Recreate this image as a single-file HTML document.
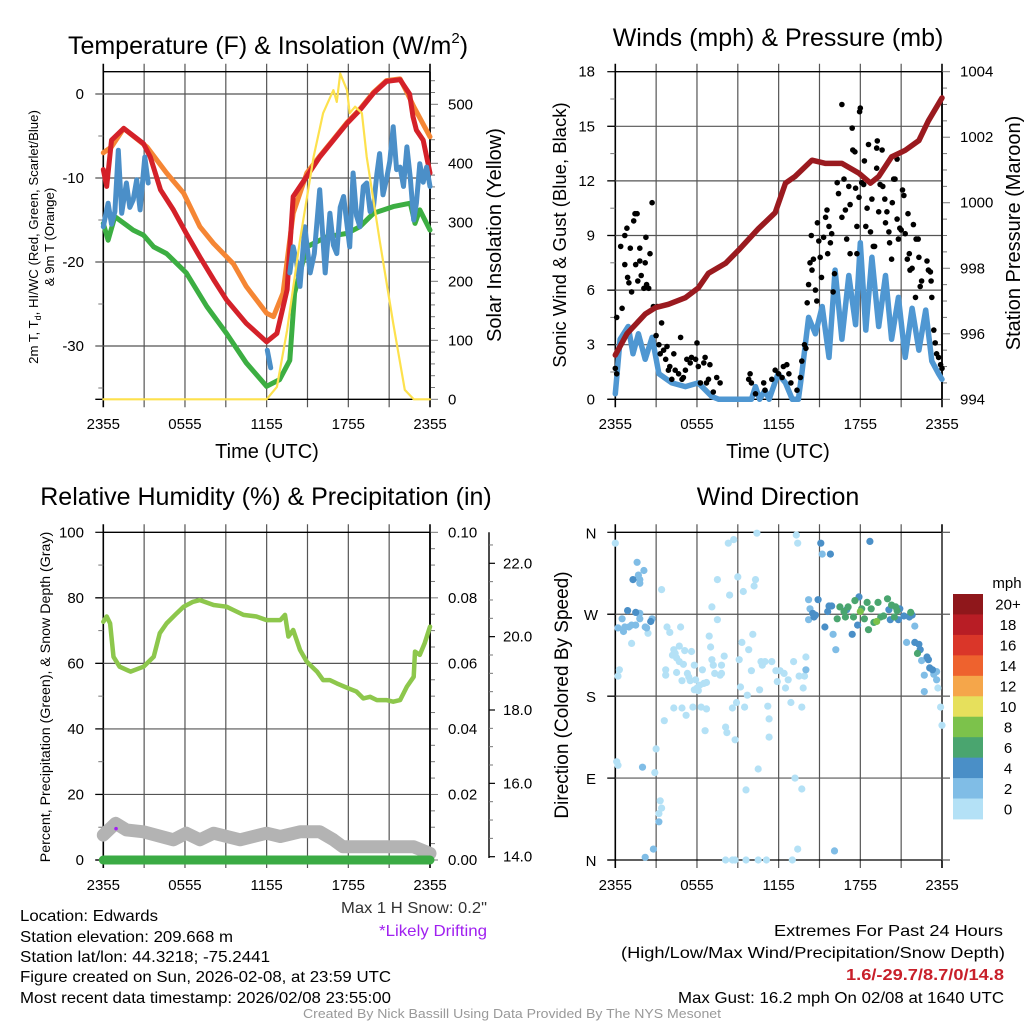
<!DOCTYPE html>
<html><head><meta charset="utf-8"><title>Mesonet Station Chart</title>
<style>
html,body{margin:0;padding:0;background:#fff;}
svg{display:block;font-family:"Liberation Sans",Arial,sans-serif;}
</style></head>
<body>
<svg id="fig" width="1024" height="1024" viewBox="0 0 1024 1024" xmlns="http://www.w3.org/2000/svg">
<rect x="0" y="0" width="1024" height="1024" fill="#fff"/>
<g id="layer"></g>
<!-- Titles -->
<text x="268" y="54" font-size="25" text-anchor="middle">Temperature (F) &amp; Insolation (W/m<tspan font-size="15" dy="-11">2</tspan><tspan dy="11">)</tspan></text>
<text x="778" y="46" font-size="25" text-anchor="middle">Winds (mph) &amp; Pressure (mb)</text>
<text x="266" y="505" font-size="25" text-anchor="middle">Relative Humidity (%) &amp; Precipitation (in)</text>
<text x="778" y="505" font-size="25" text-anchor="middle">Wind Direction</text>
<!-- X axis titles -->
<text x="267" y="458" font-size="20" text-anchor="middle">Time (UTC)</text>
<text x="778" y="458" font-size="20" text-anchor="middle">Time (UTC)</text>
<!-- Y axis titles -->
<text transform="translate(38,237) rotate(-90)" font-size="13.2" text-anchor="middle">2m T, T<tspan font-size="9" dy="3">d</tspan><tspan dy="-3">, HI/WC (Red, Green, Scarlet/Blue)</tspan></text>
<text transform="translate(54,237) rotate(-90)" font-size="13.2" text-anchor="middle">&amp; 9m T (Orange)</text>
<text transform="translate(501,235) rotate(-90)" font-size="20" text-anchor="middle">Solar Insolation (Yellow)</text>
<text transform="translate(566,235) rotate(-90)" font-size="18.5" text-anchor="middle">Sonic Wind &amp; Gust (Blue, Black)</text>
<text transform="translate(1020,233) rotate(-90)" font-size="20" text-anchor="middle">Station Pressure (Maroon)</text>
<text transform="translate(50,697) rotate(-90)" font-size="14.2" text-anchor="middle">Percent, Precipitation (Green), &amp; Snow Depth (Gray)</text>
<text transform="translate(568,695) rotate(-90)" font-size="19" text-anchor="middle">Direction (Colored By Speed)</text>
<!-- bottom text -->
<g font-size="16">
<text x="20" y="921" textLength="138" lengthAdjust="spacingAndGlyphs">Location: Edwards</text>
<text x="20" y="942" textLength="213" lengthAdjust="spacingAndGlyphs">Station elevation: 209.668 m</text>
<text x="20" y="962" textLength="250" lengthAdjust="spacingAndGlyphs">Station lat/lon: 44.3218; -75.2441</text>
<text x="20" y="982" textLength="371" lengthAdjust="spacingAndGlyphs">Figure created on Sun, 2026-02-08, at 23:59 UTC</text>
<text x="20" y="1003" textLength="371" lengthAdjust="spacingAndGlyphs">Most recent data timestamp: 2026/02/08 23:55:00</text>
</g>
<text x="341" y="913" font-size="16" fill="#333" textLength="146" lengthAdjust="spacingAndGlyphs">Max 1 H Snow: 0.2"</text>
<text x="379" y="936" font-size="16" fill="#a020f0" textLength="108" lengthAdjust="spacingAndGlyphs">*Likely Drifting</text>
<text x="774" y="936" font-size="16" textLength="229" lengthAdjust="spacingAndGlyphs">Extremes For Past 24 Hours</text>
<text x="621" y="958" font-size="16" textLength="384" lengthAdjust="spacingAndGlyphs">(High/Low/Max Wind/Precipitation/Snow Depth)</text>
<text x="846" y="980" font-size="16" font-weight="bold" fill="#c8202a" textLength="158" lengthAdjust="spacingAndGlyphs">1.6/-29.7/8.7/0/14.8</text>
<text x="678" y="1003" font-size="16" textLength="326" lengthAdjust="spacingAndGlyphs">Max Gust: 16.2 mph On 02/08 at 1640 UTC</text>
<text x="303" y="1018" font-size="13" fill="#999" textLength="418" lengthAdjust="spacingAndGlyphs">Created By Nick Bassill Using Data Provided By The NYS Mesonet</text>
</svg>
<script>
// ---------- DATA ----------
const timeTickLabels = ["2355","0555","1155","1755","2355"];
const tempTicks = [0,-10,-20,-30];
const insolTicks = [0,100,200,300,400,500];
const windTicks = [0,3,6,9,12,15,18];
const presTicks = [994,996,998,1000,1002,1004];
const rhTicks = [0,20,40,60,80,100];
const precipTicks = ["0.00","0.02","0.04","0.06","0.08","0.10"];
const snowTicks = ["14.0","16.0","18.0","20.0","22.0"];
const dirTickLabels = ["N","E","S","W","N"];
const speedBinLabels = ["0","2","4","6","8","10","12","14","16","18","20+"];
const speedBinColors = ["#b4e1f6","#80bde6","#4a8fc7","#4aa56f","#7cc24b","#e6e05c","#f5a64a","#ee622e","#da3629","#b81d25","#8f171b"];

const redHours = [0,0.25,0.6,1.5,2.95,3.45,4.2,5.15,6.1,7.1,8.1,9.05,10.5,12,12.75,13.5,13.95,14.95,15.9,16.9,17.9,18.85,19.85,20.8,21.8,22.5,22.75,23,23.5,24];
const redTemp = [-9,-11,-5.5,-4.1,-5.9,-7.5,-11.4,-13.8,-16.6,-19.4,-22.1,-24.5,-27.3,-29.5,-28.5,-23.3,-12.2,-9.8,-7.5,-5.5,-3.5,-1.9,0.1,1.5,1.7,0,-2.7,-4.3,-5.5,-9.4];
const orangeHours = [0,0.6,1.5,3.2,4.65,5.9,7.1,8.1,9.55,10.5,12,12.5,13.2,13.95,14.95,15.9,16.9,17.9,18.85,19.85,20.8,21.8,22.3,22.8,24];
const orangeTemp = [-7,-6.3,-4.1,-6.3,-9.4,-11.8,-15.8,-17.8,-20.2,-22.9,-26.1,-26.5,-23.7,-14.2,-9.4,-7.4,-5.4,-3.4,-1.8,0.2,1.6,1.8,0.2,-1.5,-5.1];
const greenHours = [0,0.35,0.85,2.2,2.95,3.7,4.65,6.1,7.6,9.05,10.5,12,12.95,13.7,14.05,14.95,16.4,17.9,18.85,19.85,21.3,22.55,22.9,23.25,24];
const greenTemp = [-15.4,-17.4,-14.6,-16.2,-16.8,-18.2,-19,-21.3,-25.3,-28.5,-32,-34.8,-34,-31.7,-23.7,-18.2,-17,-16.6,-15.8,-14.2,-13.4,-13,-15.4,-13.8,-16.2];
const blueHours = [0,0.35,0.6,0.85,1.1,1.35,1.7,1.95,2.2,2.45,2.7,3.05,3.3,3.31,12.05,12.3,12.31,13.7,13.95,14.2,14.45,14.8,15.2,15.5,15.9,16.3,16.65,16.9,17.15,17.4,17.65,18.1,18.35,18.6,18.85,19.1,19.35,19.6,19.85,20.1,20.3,20.55,20.8,21.05,21.3,21.55,21.8,22.05,22.3,22.55,22.8,23.0,23.25,23.5,23.75,24];
const blueTemp = [-15.8,-13,-15.5,-14,-6.7,-14.2,-10.6,-13.5,-12.6,-10.2,-13.8,-7.5,-10.6,null,-30.5,-32.6,null,-21.3,-18.2,-20,-22.9,-15.8,-21.3,-19,-11.4,-21.3,-14.2,-18,-19,-13.5,-12.2,-18.2,-9.4,-14.5,-15.8,-11,-10.6,-14,-13.4,-9.5,-7.1,-12,-10.2,-8,-3.9,-9,-8.7,-11,-6.3,-10,-15,-13,-8.3,-10.5,-8.7,-11];
const solarHours = [0,12,12.75,13.5,14.45,15.45,16.15,16.9,17.15,17.4,17.9,18.1,18.5,19,19.35,20.3,21.3,22.15,22.8,24];
const solarWm2 = [0,0,21,117,270,411,485,524,504,552,524,485,496,485,411,270,129,16,0,0];

const presHours = [0,0.85,2.2,2.95,3.9,5.15,6.1,6.85,8.1,9.05,10.5,11.75,12.5,13.2,14.45,15.45,16.65,17.9,18.75,19.35,20.3,21.3,22.3,23,24];
const presMb = [995.35,996.0,996.6,996.8,996.9,997.1,997.4,997.85,998.15,998.55,999.2,999.7,1000.6,1000.8,1001.3,1001.2,1001.2,1000.9,1000.6,1000.8,1001.4,1001.6,1001.9,1002.5,1003.2];
const windHours = [0,0.35,0.95,1.3,1.7,2.2,2.7,3.2,4.15,5.15,6.1,7.1,7.6,10.0,10.3,10.6,11.0,11.3,11.95,12.5,13.0,13.45,13.7,14.2,14.7,15.2,15.7,16.15,16.65,17.15,17.65,18.0,18.4,18.85,19.35,19.85,20.3,20.8,21.3,21.8,22.3,22.8,23.25,23.75,24];
const windMph = [0.3,3.3,4.0,2.5,3.6,2.2,3.4,1.4,0.9,0.7,0.9,0.15,0,0,0.7,0,0.5,0,1.4,0.9,0,0,1.4,4.5,3.6,5.1,2.3,7.1,3.3,6.8,4.1,8.6,3.8,7.8,4.0,6.8,3.3,5.6,2.3,5.0,2.7,4.9,2.1,1.4,1.1];
const gustHours = [0,0.1,0.1,0.4,0.5,0.7,0.7,0.85,0.9,1.0,1.1,1.2,1.35,1.45,1.6,1.5,1.65,1.8,1.8,1.9,2.1,2.2,2.25,2.3,2.45,2.55,2.7,2.8,3.0,3.1,3.2,3.3,3.4,3.55,3.7,3.8,3.9,4.0,4.15,4.3,4.4,4.65,4.8,4.9,5.0,5.15,5.25,5.5,5.6,5.9,6.0,6.1,6.25,6.5,6.6,6.7,6.85,6.95,7.2,7.45,7.7,9.8,9.9,10.0,10.3,10.9,11.0,11.5,11.75,12.0,12.25,12.35,12.6,12.75,12.9,13.35,13.6,13.7,13.9,14.0,14.1,14.2,14.3,14.4,14.45,14.55,14.7,14.8,14.85,14.95,15.05,15.15,15.3,15.45,15.55,15.6,15.7,15.8,15.9,16.0,16.1,16.3,16.4,16.65,16.65,16.8,16.9,17.0,17.15,17.25,17.25,17.4,17.45,17.6,17.65,17.75,17.75,17.9,17.95,18.0,18.1,18.25,18.3,18.4,18.5,18.6,18.75,18.85,18.95,19.05,19.2,19.2,19.25,19.35,19.45,19.6,19.65,19.8,19.85,19.95,20.1,20.15,20.3,20.35,20.45,20.55,20.7,20.7,20.8,20.9,21.0,21.1,21.2,21.3,21.45,21.5,21.6,21.65,21.8,21.9,22.05,22.1,22.25,22.3,22.4,22.5,22.9,23.0,23.15,23.2,23.25,23.4,23.5,23.6,23.75,23.9,24];
const gustMph = [1.7,1.4,4.5,8.4,5.0,9.0,7.4,9.4,6.7,6.4,8.3,5.9,9.8,10.2,10.2,7.4,6.5,8.3,7.6,6.8,6.1,7.5,8.9,6.3,6.1,8.0,10.8,5.1,3.5,5.1,3.0,2.5,4.2,2.7,2.2,2.9,1.6,1.8,1.1,2.5,1.6,1.4,3.4,1.1,1.2,1.6,2.2,2.0,2.3,2.2,3.1,1.8,0.9,2.0,2.3,0.9,1.1,1.9,0.4,1.2,0.9,1.1,1.4,0.9,0.3,0.9,0.5,1.1,1.6,1.4,1.2,1.8,1.9,1.4,0.9,0.5,1.2,2.1,3.0,2.8,5.3,6.3,7.5,9.0,7.1,7.7,6.0,5.4,9.7,8.7,7.8,6.7,8.9,10.0,10.4,8.0,9.5,8.6,9.1,5.9,6.9,11.9,11.3,16.2,10.0,12.1,10.4,8.8,11.7,10.7,8.0,14.9,13.7,13.6,11.6,9.5,8.0,11.1,15.8,16.0,11.9,11.8,13.1,9.5,10.5,14.0,9.2,11.0,8.4,8.4,13.8,12.7,14.2,10.3,11.8,13.7,11.7,11.0,9.7,10.3,9.2,8.6,7.7,10.8,12.1,12.1,13.2,9.9,8.8,9.4,9.3,11.5,11.2,9.1,7.7,10.2,8.0,7.1,7.2,9.6,5.6,8.8,8.8,7.8,6.2,6.5,7.6,7.1,7.0,6.5,5.6,3.8,3.1,2.5,2.3,1.9,1.7];

const rhHours = [0,0.25,0.5,0.75,1.2,2.0,2.95,3.7,4.15,4.65,5.4,5.9,6.6,7.1,8.1,9.05,9.55,10.3,11.25,12.0,13.0,13.35,13.6,13.95,14.45,14.95,15.7,16.15,16.65,17.15,18.0,18.6,19.1,19.6,20.1,20.8,21.3,21.8,22.3,22.8,22.9,23.25,23.6,24];
const rhPct = [72.7,74.3,72.2,62,59,57.5,59,62,69.2,72.2,75.3,77.3,78.8,79.3,77.8,77.3,76.3,74.8,74.3,73.2,73.2,74.8,68.2,70.2,64.1,60.5,57.5,54.9,54.9,53.9,52.4,51.4,49.3,49.8,48.8,48.8,48.3,48.8,52.9,55.9,63.6,62.6,66.1,71.2];
const precipHours = [0,24];
const precipIn = [0,0];
const snowHours = [0,0.9,1.7,2.95,5.15,6.1,7.1,8.1,10.05,12.0,13.0,14.45,15.9,16.9,17.6,22.8,24];
const snowDepthIn = [14.59,14.91,14.73,14.68,14.46,14.64,14.46,14.64,14.46,14.64,14.55,14.68,14.68,14.46,14.27,14.27,14.09];
const driftHours = [0.9];
const driftDepth = [14.82];

const dirHours = [0.0,0.1,0.2,0.3,0.2,1.2,2.4,3.0,2.9,3.3,3.4,3.2,3.4,3.6,3.7,3.7,3.8,4.0,4.2,4.3,4.4,4.5,4.7,4.8,4.5,4.7,4.9,5.0,5.1,5.3,5.4,5.5,5.6,5.8,5.9,5.8,6.0,6.1,6.2,6.4,6.5,6.7,6.9,7.0,7.1,7.2,7.3,7.5,7.7,7.8,8.0,7.8,7.5,7.1,4.3,4.9,5.2,5.7,6.3,6.7,6.6,8.1,8.2,8.3,8.7,8.4,9.0,9.1,9.2,9.3,9.4,9.5,8.9,8.6,8.8,9.7,9.6,9.8,10.0,10.1,10.3,10.2,10.4,10.5,10.6,10.7,10.8,11.0,11.3,11.2,11.3,11.5,11.8,11.9,12.1,12.4,12.5,12.7,12.9,13.1,13.2,13.3,13.4,13.4,13.5,13.7,13.7,13.8,13.9,14.0,8.1,8.6,8.8,9.6,10.5,11.1,13.0,23.7,23.9,24.0,
0.2,0.5,0.7,0.6,1.0,1.2,1.5,1.7,1.8,2.2,2.3,2.7,1.8,1.6,1.7,1.8,2.1,1.8,2.0,2.2,2.8,3.2,14.0,14.2,14.2,15.2,16.0,16.2,16.1,21.4,22.0,22.5,22.7,22.7,23.4,23.6,23.6,14.3,
0.9,1.5,2.6,1.3,14.5,14.6,14.7,14.9,15.1,15.4,15.6,15.7,15.8,15.9,17.0,17.4,17.8,17.9,18.7,20.1,20.2,20.8,20.9,21.2,21.6,21.8,22.0,22.3,22.4,22.9,23.0,23.1,23.3,
16.5,16.8,16.3,16.9,17.1,17.5,17.6,18.1,18.3,18.5,18.6,18.8,19.0,19.3,19.5,19.7,20.0,20.3,20.5,20.6,20.7,21.7,22.2,
18.0,19.2];
const dirDeg = [348,108,104,209,202,238,249,122,96,65,57,51,297,153,203,209,256,250,225,231,227,222,235,256,206,218,197,215,230,205,201,197,229,187,198,214,189,186,192,209,194,195,246,234,220,214,205,264,203,205,224,214,308,278,167,167,159,168,168,166,142,146,140,348,352,291,311,220,190,239,295,168,173,167,132,181,77,231,208,248,308,301,359,100,187,218,214,218,135,169,155,218,208,196,208,205,189,198,173,218,90,357,348,12,202,168,78,189,202,223,0,0,0,0,0,0,0,189,168,148,
255,265,256,251,256,258,258,271,265,256,255,265,271,327,313,308,318,304,102,3,12,42,209,286,264,336,248,231,10,239,257,219,203,185,204,198,207,276,
274,272,262,308,271,267,269,286,348,256,273,279,336,279,275,248,258,289,350,275,264,264,276,268,267,269,239,237,231,223,220,211,209,
278,273,265,267,278,267,285,276,265,283,253,276,261,283,267,268,287,280,267,278,274,272,227,
273,262];
const dirSpeed = [1,1,1,1,1,1,1,1,1,1,1,1,1,1,1,1,1,1,1,1,1,1,1,1,1,1,1,1,1,1,1,1,1,1,1,1,1,1,1,1,1,1,1,1,1,1,1,1,1,1,1,1,1,1,1,1,1,1,1,1,1,1,1,1,1,1,1,1,1,1,1,1,1,1,1,1,1,1,1,1,1,1,1,1,1,1,1,1,1,1,1,1,1,1,1,1,1,1,1,1,1,1,1,1,1,1,1,1,1,1,1,1,1,1,1,1,1,1,1,1,
3,3,3,3,3,3,3,3,3,3,3,3,3,3,3,3,3,3,3,3,3,3,3,3,3,3,3,3,3,3,3,3,3,3,3,3,3,3,
5,5,5,5,5,5,5,5,5,5,5,5,5,5,5,5,5,5,5,5,5,5,5,5,5,5,5,5,5,5,5,5,5,
7,7,7,7,7,7,7,7,7,7,7,7,7,7,7,7,7,7,7,7,7,7,7,
9,9];

// ---------- HELPERS ----------
const NS = "http://www.w3.org/2000/svg";
const layer = document.getElementById('layer');
function mk(tag, attrs, parent) {
  const el = document.createElementNS(NS, tag);
  for (const k in attrs) el.setAttribute(k, attrs[k]);
  (parent || layer).appendChild(el);
  return el;
}
function lin(d0, d1, r0, r1) { return v => r0 + (v - d0) / (d1 - d0) * (r1 - r0); }
function pathD(xs, ys, xf, yf) {
  let d = "", pen = false;
  for (let i = 0; i < xs.length; i++) {
    if (ys[i] === null) { pen = false; continue; }
    d += (pen ? "L" : "M") + xf(xs[i]).toFixed(1) + "," + yf(ys[i]).toFixed(1);
    pen = true;
  }
  return d;
}
function drawSeries(name, xs, ys, xf, yf, color, width) {
  const el = mk('path', {d: pathD(xs, ys, xf, yf), fill: 'none', stroke: color, 'stroke-width': width, 'stroke-linejoin': 'round', 'stroke-linecap': 'round'});
  
  
  return el;
}
function addText(name, x, y, str, size, anchor) {
  const t = mk('text', {x: x, y: y, 'font-size': size, 'text-anchor': anchor || 'middle'});
  t.textContent = str;
  
  
  return t;
}
function addLine(name, x1, y1, x2, y2, color, w) {
  const l = mk('line', {x1: x1, y1: y1, x2: x2, y2: y2, stroke: color, 'stroke-width': w});
  
  
  return l;
}

function panelFrame(prefix, P, hGridYs) {
  const xf = lin(0, 24, P.x0, P.x1);
  for (let k = 0; k <= 8; k++) {
    const x = xf(k * 3);
    addLine(prefix + '-vgrid', x, P.y0 - 8, x, P.y1 + 8, (k === 0 || k === 8) ? '#000' : '#555', (k === 0 || k === 8) ? 1.6 : 1.2);
  }
  hGridYs.forEach(y => addLine(prefix + '-hgrid', P.x0 - 8, y, P.x1, y, '#555', 1.2));
  addLine(prefix + '-frame-top', P.x0, P.y0, P.x1, P.y0, '#000', 1.3);
  addLine(prefix + '-frame-bottom', P.x0 - 8, P.y1, P.x1, P.y1, '#000', 1.3);
  return xf;
}
function timeLabels(prefix, xf, y) {
  timeTickLabels.forEach((s, i) => addText(prefix + '-x-tick-label', xf(i * 6), y, s, 15));
}
function ticksLeft(prefix, vals, yf, P) {
  vals.forEach(v => addLine(prefix + '-minor-tick', P.x0 - 5, yf(v), P.x0, yf(v), '#777', 1));
}
function ticksRight(prefix, vals, yf, P, len) {
  vals.forEach(v => addLine(prefix + '-right-tick', P.x1, yf(v), P.x1 + len, yf(v), '#777', 1));
}

// ---------- PANEL 1 ----------
const P1 = {x0: 103.3, x1: 430, y0: 71.7, y1: 399.3};
const yT = lin(0, -30, 94, 346);
const yI = lin(0, 500, 399.3, 104.3);
const x1f = panelFrame('temp', P1, tempTicks.map(yT));
timeLabels('temp', x1f, 429);
tempTicks.forEach(t => addText('temp-y-tick-label', 84, yT(t) + 5, String(t), 15, 'end'));
ticksLeft('temp', [-5, -15, -25, -35], yT, P1);
insolTicks.forEach(v => addText('insolation-tick-label', 448, yI(v) + 5, String(v), 15, 'start'));
ticksRight('insol-major', insolTicks, yI, P1, 8);
ticksRight('insol-minor', [20,40,60,80,120,140,160,180,220,240,260,280,320,340,360,380,420,440,460,480,520,540], yI, P1, 5);
addLine('insolation-axis-line', P1.x1, P1.y0, P1.x1, P1.y1, '#000', 1.6);
drawSeries('orange-9m-temp-line', orangeHours, orangeTemp, x1f, yT, '#f58634', 5);
drawSeries('red-2m-temp-line', redHours, redTemp, x1f, yT, '#d42129', 5);
drawSeries('green-dewpoint-line', greenHours, greenTemp, x1f, yT, '#3cae42', 5);
drawSeries('blue-windchill-line', blueHours, blueTemp, x1f, yT, '#4b8fc8', 5);
drawSeries('yellow-insolation-line', solarHours, solarWm2, x1f, yI, '#fde14d', 2.2);

// ---------- PANEL 2 ----------
const P2 = {x0: 615.3, x1: 942, y0: 71.7, y1: 399.3};
const yW = lin(0, 18, 399.3, 71.7);
const yP = lin(994, 1004, 399.3, 71.7);
const x2f = panelFrame('wind', P2, windTicks.slice(1, 6).map(yW));
timeLabels('wind', x2f, 429);
windTicks.forEach(v => addText('wind-y-tick-label', 595, yW(v) + 5, String(v), 15, 'end'));
ticksLeft('wind', [1.5, 4.5, 7.5, 10.5, 13.5, 16.5], yW, P2);
windTicks.forEach(v => addLine('wind-major-tick', P2.x0 - 8, yW(v), P2.x0, yW(v), '#000', 1.2));
presTicks.forEach(v => addText('pressure-tick-label', 960, yP(v) + 5, String(v), 15, 'start'));
ticksRight('pres-major', presTicks, yP, P2, 8);
ticksRight('pres-minor', [994.5,995,995.5,996.5,997,997.5,998.5,999,999.5,1000.5,1001,1001.5,1002.5,1003,1003.5], yP, P2, 5);
addLine('pressure-axis-line', P2.x1, P2.y0, P2.x1, P2.y1, '#000', 1.6);
drawSeries('blue-wind-speed-line', windHours, windMph, x2f, yW, '#4f97d2', 5.5);
const gustG = mk('g', {});


for (let i = 0; i < gustHours.length; i++) {
  const c = mk('circle', {cx: x2f(gustHours[i]).toFixed(1), cy: yW(gustMph[i]).toFixed(1), r: 2.8, fill: '#000'}, gustG);
  
  
}
drawSeries('maroon-pressure-line', presHours, presMb, x2f, yP, '#9a1a1f', 5.5);

// ---------- PANEL 3 ----------
const P3 = {x0: 103.3, x1: 430, y0: 532.3, y1: 860};
const yRH = lin(0, 100, 860, 532.3);
const ySD = lin(14, 22, 856.7, 563.3);
const x3f = panelFrame('rh', P3, [20, 40, 60, 80].map(yRH));
timeLabels('rh', x3f, 890);
rhTicks.forEach(v => addText('rh-y-tick-label', 84, yRH(v) + 5, String(v), 15, 'end'));
ticksLeft('rh', [10, 30, 50, 70, 90], yRH, P3);
rhTicks.forEach(v => addLine('rh-major-tick', P3.x0 - 8, yRH(v), P3.x0, yRH(v), '#000', 1.2));
precipTicks.forEach((s, i) => addText('precip-tick-label', 448, yRH(i * 20) + 5, s, 15, 'start'));
ticksRight('precip-major', rhTicks, yRH, P3, 8);
const precipMinor = [];
for (let v = 5; v < 100; v += 5) if (v % 20) precipMinor.push(v);
ticksRight('precip-minor', precipMinor, yRH, P3, 5);
addLine('precip-axis-line', P3.x1, P3.y0, P3.x1, P3.y1, '#000', 1.6);
addLine('snow-axis-line', 489, 532.3, 489, 858, '#000', 1.4);
snowTicks.forEach(s => {
  const y = ySD(parseFloat(s));
  addLine('snow-major-tick', 489, y, 495, y, '#000', 1.2);
  addText('snow-tick-label', 503, y + 5, s, 15, 'start');
});
for (let d = 14.5; d < 22.8; d += 0.5) if (d % 2) addLine('snow-minor-tick', 489, ySD(d), 493, ySD(d), '#777', 1);
drawSeries('gray-snow-depth-line', snowHours, snowDepthIn, x3f, ySD, '#b3b3b3', 13);
drawSeries('green-precip-line', precipHours, precipIn, x3f, v => yRH(v * 1000), '#3bab44', 9);
drawSeries('green-rh-line', rhHours, rhPct, x3f, yRH, '#8dc74c', 4.5);
for (let i = 0; i < driftHours.length; i++) {
  const dc = mk('circle', {cx: x3f(driftHours[i]) + 0.5, cy: ySD(driftDepth[i]) + 2, r: 1.8, fill: '#a020f0'});
  
  
}

// ---------- PANEL 4 ----------
const P4 = {x0: 615.3, x1: 942, y0: 532.3, y1: 860};
const yD = lin(0, 360, 860, 532.3);
const x4f = panelFrame('dir', P4, [90, 180, 270].map(yD));
timeLabels('dir', x4f, 890);
dirTickLabels.forEach((s, i) => addText('direction-tick-label', 591, yD(i * 90) + 6, s, 15));
[0, 90, 180, 270, 360].forEach(v => addLine('dir-major-tick', P4.x0 - 8, yD(v), P4.x0, yD(v), '#000', 1.2));
addLine('dir-right-edge', P4.x1, P4.y0, P4.x1, P4.y1, '#555', 1.4);
[0, 90, 180, 270, 360].forEach(v => addLine('dir-right-tick', P4.x1, yD(v), P4.x1 + 8, yD(v), '#555', 1.2));
function speedColor(s) { return speedBinColors[Math.min(10, Math.max(0, Math.floor(s / 2)))]; }
const dirG = mk('g', {});


for (let i = 0; i < dirHours.length; i++) {
  const c = mk('circle', {cx: x4f(dirHours[i]).toFixed(1), cy: yD(dirDeg[i]).toFixed(1), r: 3.6, fill: speedColor(dirSpeed[i])}, dirG);
  
  
}
const cbTop = 594, cbBot = 819, cbX = 953, cbW = 30;
const cbH = (cbBot - cbTop) / speedBinColors.length;
addText('colorbar-title', 1007, 588, 'mph', 15);
for (let i = 0; i < speedBinColors.length; i++) {
  const idx = speedBinColors.length - 1 - i;
  const r = mk('rect', {x: cbX, y: cbTop + i * cbH, width: cbW, height: cbH + 0.4, fill: speedBinColors[idx]});
  
  
  addText('colorbar-label', 1008, cbTop + i * cbH + cbH / 2 + 5.5, speedBinLabels[idx], 15);
}
</script>
</body></html>
